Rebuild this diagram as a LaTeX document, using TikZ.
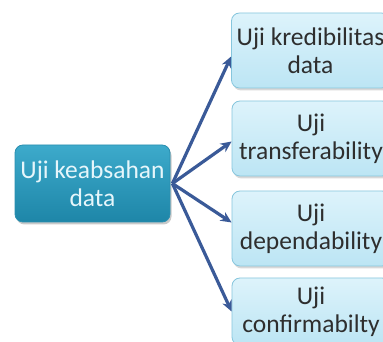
\documentclass[tikz,border=0pt]{standalone}
\usepackage{fontspec}
\setmainfont{Carlito}
\usetikzlibrary{arrows.meta,shadows,calc}
\definecolor{arrowblue}{HTML}{3A5A98}
\definecolor{leftTop}{HTML}{3DAACB}
\definecolor{leftBot}{HTML}{1E86A8}
\definecolor{leftBorder}{HTML}{2A8FB0}
\definecolor{rightTop}{HTML}{DDF3FB}
\definecolor{rightBot}{HTML}{BCE5F4}
\definecolor{rightBorder}{HTML}{86C6DD}
\definecolor{darktext}{HTML}{2E2E2E}
\definecolor{lighttext}{HTML}{E6F6FB}
\begin{document}
\begin{tikzpicture}[x=1pt,y=1pt,
  mainbox/.style={rectangle,rounded corners=8pt,draw=leftBorder,line width=0.8pt,
    top color=leftTop,bottom color=leftBot,text=lighttext,
    minimum width=155pt,minimum height=77pt,align=center,
    font=\fontsize{25.5}{28}\selectfont,
    drop shadow={shadow xshift=1.5pt,shadow yshift=-2.5pt,opacity=0.35,fill=black!60}},
  subbox/.style={rectangle,rounded corners=8pt,draw=rightBorder,line width=0.8pt,
    top color=rightTop,bottom color=rightBot,text=darktext,
    minimum width=158pt,minimum height=75pt,align=center,
    font=\fontsize{25.5}{28}\selectfont,
    drop shadow={shadow xshift=1.5pt,shadow yshift=-2.5pt,opacity=0.3,fill=black!50}},
  conn/.style={draw=arrowblue,line width=3.2pt,-{Stealth[length=11pt,width=10pt]}}
]
\useasboundingbox (0,0) rectangle (383,342);
\clip (0,0) rectangle (383,342);
\fill[white] (0,0) rectangle (383,342);
\node[mainbox] (m) at (92.5,158.5) {Uji keabsahan\\data};
\node[subbox] (b1) at (310.5,291.5) {Uji kredibilitas\\data};
\node[subbox] (b2) at (311,203.5) {Uji\\transferability};
\node[subbox] (b3) at (311,113.5) {Uji\\dependability};
\node[subbox,minimum height=67pt] (b4) at (311,30.5) {Uji\\confirmabilty};
\coordinate (s) at ($(m.east)+(2,0)$);
\draw[conn] (s) -- ($(b1.west)+(0,-6)$);
\draw[conn] (s) -- ($(b2.west)+(0,-3)$);
\draw[conn] (s) -- ($(b3.west)+(0,6)$);
\draw[conn] (s) -- ($(b4.west)+(0,0)$);
\end{tikzpicture}
\end{document}
